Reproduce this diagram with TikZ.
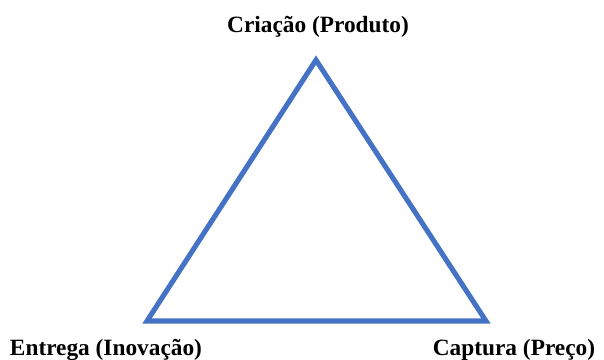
\documentclass[tikz,border=0pt]{standalone}
\usepackage{fontspec}
\setmainfont{Liberation Serif}
\usetikzlibrary{positioning}
\definecolor{cblue}{HTML}{4472C4}
\tikzset{
  every picture/.style={x=0.75pt, y=-0.75pt},
  side/.style={draw=cblue, line width=3.8pt, line join=miter},
  corner/.style={font=\bfseries\fontsize{17.5}{20}\selectfont, inner sep=0pt, anchor=base},
}
\begin{document}
\begin{tikzpicture}
  \useasboundingbox (0,0) rectangle (604,360);
  \coordinate (top) at (316,60);
  \coordinate (left) at (147,321);
  \coordinate (right) at (486,321);
  \draw[side] (top) -- (left) -- (right) -- cycle;
  \node[corner] (crea) at (318,33) {Criação (Produto)};
  \node[corner] (entr) at (106,355) {Entrega (Inovação)};
  \node[corner] (capt) at (514,355) {Captura (Preço)};
\end{tikzpicture}
\end{document}
